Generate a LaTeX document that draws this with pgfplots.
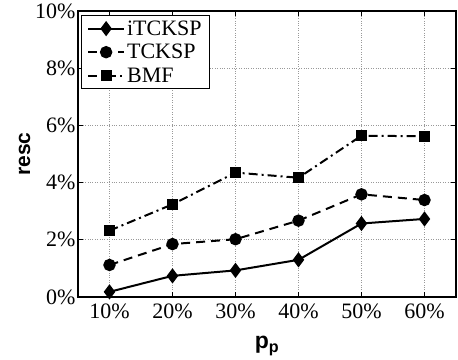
\documentclass[border=0pt]{standalone}
\usepackage{pgfplots}
\pgfplotsset{compat=1.18}
\usepackage{fontspec}
\setmainfont{Liberation Serif}
\newfontfamily\labfont{Liberation Sans}
\begin{document}
\begin{tikzpicture}
\begin{axis}[
  at={(0,0)}, anchor=south west,
  scale only axis, width=378pt, height=286pt,
  xmin=5, xmax=65, ymin=0, ymax=10,
  xtick={10,20,30,40,50,60},
  xticklabels={10\%,20\%,30\%,40\%,50\%,60\%},
  ytick={0,2,4,6,8,10},
  yticklabels={0\%,2\%,4\%,6\%,8\%,10\%},
  tick label style={font=\fontsize{22}{24}\selectfont},
  xticklabel style={yshift=-3pt},
  yticklabel style={xshift=1pt},
  tick align=inside, major tick length=5pt,
  xtick pos=both, ytick pos=both,
  tick style={black, line width=0.8pt},
  axis line style={line width=1.6pt},
  grid=major, major grid style={dotted, gray!80, line width=0.8pt},
  xlabel={\labfont\bfseries p\textsubscript{p}},
  ylabel={\labfont\bfseries resc},
  xlabel style={font=\fontsize{23}{25}\selectfont, yshift=-11pt},
  ylabel style={font=\fontsize{21}{23}\selectfont, yshift=-2pt},
  legend image code/.code={\draw[mark repeat=2,mark phase=2] plot coordinates {(0pt,0pt) (18pt,0pt) (36pt,0pt)};},
  legend style={font=\fontsize{22}{24}\selectfont, draw=black, line width=1.2pt, at={(axis cs:5.4,9.86)}, anchor=north west, inner xsep=6pt, inner ysep=3pt, row sep=3.5pt},
  legend cell align=left,
]
\addplot[black, line width=2pt, mark=diamond*, mark size=6pt, mark options={solid}]
  coordinates {(10,0.18) (20,0.74) (30,0.93) (40,1.3) (50,2.57) (60,2.73)};
\addlegendentry{iTCKSP}
\addplot[black, line width=2pt, dash pattern=on 9pt off 6pt, mark=*, mark size=5.2pt, mark options={solid}]
  coordinates {(10,1.12) (20,1.85) (30,2.02) (40,2.67) (50,3.59) (60,3.39)};
\addlegendentry{TCKSP}
\addplot[black, line width=2pt, dash pattern=on 9pt off 4pt on 2pt off 4pt, mark=square*, mark size=4.6pt, mark options={solid}]
  coordinates {(10,2.32) (20,3.24) (30,4.35) (40,4.17) (50,5.64) (60,5.62)};
\addlegendentry{BMF}
\end{axis}
\pgfresetboundingbox
\path (-78pt,-62pt) rectangle (380pt,297pt);
\end{tikzpicture}
\end{document}
